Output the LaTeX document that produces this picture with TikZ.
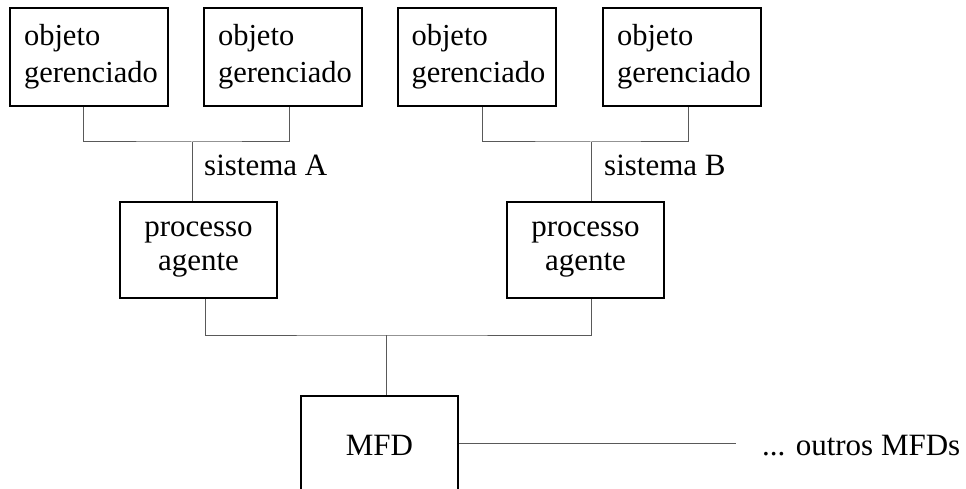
\documentclass[tikz,border=0pt]{standalone}
\usepackage{fontspec}
\setmainfont{Liberation Serif}
\usetikzlibrary{calc,positioning}
\tikzset{objbox/.style={
            draw,
            line width=2pt,
            rectangle,
            minimum width=158pt,
            minimum height=98pt,
            inner xsep=14pt,
            text width=130pt,
            align=left,
            font=\fontsize{30.5}{37}\selectfont
        },
        procbox/.style={
            draw,
            line width=2pt,
            rectangle,
            minimum width=157pt,
            minimum height=96pt,
            align=center,
            font=\fontsize{31}{34}\selectfont
        },
        link/.style={
            line width=1pt,
            black!65
        },
        lbl/.style={
            inner sep=0pt,
            anchor=base west,
            font=\fontsize{31}{34}\selectfont
        }
    }
\begin{document}
\begin{tikzpicture}[x=1pt,y=-1pt]
        \useasboundingbox (0,0) rectangle (966,489);
        \clip (0,0) rectangle (966,489);

        % sistema A
        \node[objbox] at (89,57) (objA1) {objeto\\gerenciado};
        \node[objbox] at (283,57) (objA2) {objeto\\gerenciado};
        \node[procbox] at (198.5,250) (agA) {processo\\agente};
        \coordinate (jA) at (192,142);
        \draw[link] ([xshift=-6]objA1.south) |- (jA) -| ([xshift=6]objA2.south);
        \draw[link] (jA) -- (jA |- agA.north);
        \node[lbl] at (204,176) (sysA) {sistema A};

        % sistema B
        \node[objbox] at (476.5,57) (objB1) {objeto\\gerenciado};
        \node[objbox] at (682,57) (objB2) {objeto\\gerenciado};
        \node[procbox] at (585.5,250) (agB) {processo\\agente};
        \coordinate (jB) at (591,142);
        \draw[link] ([xshift=6]objB1.south) |- (jB) -| ([xshift=6]objB2.south);
        \draw[link] (jB) -- (jB |- agB.north);
        \node[lbl] at (604,176) (sysB) {sistema B};

        % MFD
        \node[procbox, minimum height=98pt] at (379.5,445) (mfd) {MFD};
        \coordinate (jM) at (386,335);
        \draw[link] ([xshift=6.5]agA.south) |- (jM) -| ([xshift=5.5]agB.south);
        \draw[link] (jM) -- (jM |- mfd.north);
        \coordinate (others) at (736,443);
        \draw[link] (mfd.east |- others) -- (others);
        \node[lbl] at (762,455) (outros) {... outros MFDs};
    \end{tikzpicture}
\end{document}
